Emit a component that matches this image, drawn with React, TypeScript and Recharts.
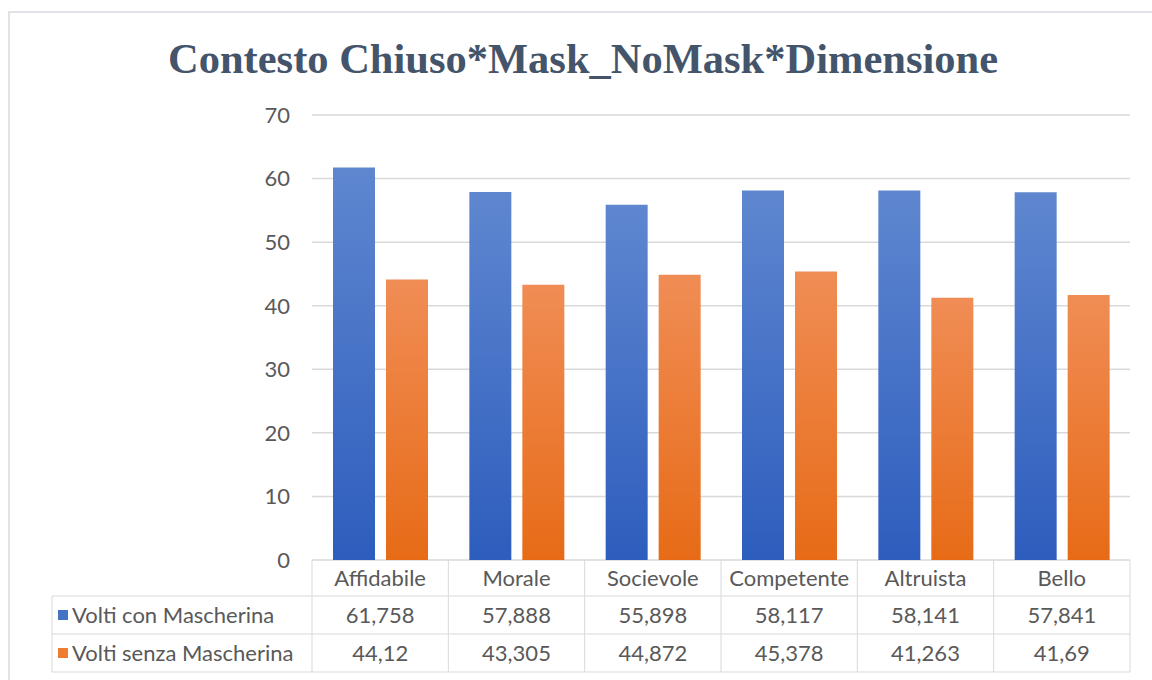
import React from 'react';
import { BarChart, Bar, XAxis, YAxis, CartesianGrid } from 'recharts';

const categories = ['Affidabile', 'Morale', 'Socievole', 'Competente', 'Altruista', 'Bello'];
const conMascherina = [61.758, 57.888, 55.898, 58.117, 58.141, 57.841];
const senzaMascherina = [44.12, 43.305, 44.872, 45.378, 41.263, 41.69];
const yTicks = [0, 10, 20, 30, 40, 50, 60, 70];
const seriesNames = ['Volti con Mascherina', 'Volti senza Mascherina'];
const seriesLabels = [
  ['61,758', '57,888', '55,898', '58,117', '58,141', '57,841'],
  ['44,12', '43,305', '44,872', '45,378', '41,263', '41,69'],
];

const data = categories.map((name, i) => ({
  name,
  con: conMascherina[i],
  senza: senzaMascherina[i],
}));

const W = 1152;
const H = 680;
const PLOT_LEFT = 312;
const PLOT_RIGHT = 1130;
const PLOT_TOP = 115;
const AXIS_H = 112;
const PLOT_BOTTOM = H - 8 - AXIS_H;
const CELL_W = (PLOT_RIGHT - PLOT_LEFT) / categories.length;
const ROW_Y = [PLOT_BOTTOM, PLOT_BOTTOM + 36, PLOT_BOTTOM + 74, PLOT_BOTTOM + 112];
const LEGEND_LEFT = 52;
const LINE = '#d9d9d9';
const TEXT = '#595959';
const FONT = 'Lato, "Open Sans", sans-serif';
const FS = 22;
const COLORS = ['#4472c4', '#ed7d31'];

const TableTick = (props: any) => {
  const { x, payload } = props;
  const i = payload.index;
  const left = x - CELL_W / 2;
  const right = x + CELL_W / 2;
  const mid = (a: number, b: number) => (a + b) / 2 + 8;
  return (
    <g>
      <line x1={left} x2={left} y1={ROW_Y[0]} y2={ROW_Y[3]} stroke={LINE} />
      {i === categories.length - 1 && (
        <line x1={right} x2={right} y1={ROW_Y[0]} y2={ROW_Y[3]} stroke={LINE} />
      )}
      {[1, 2, 3].map((r) => (
        <line key={r} x1={left} x2={right} y1={ROW_Y[r]} y2={ROW_Y[r]} stroke={LINE} />
      ))}
      <text x={x} y={mid(ROW_Y[0], ROW_Y[1])} textAnchor="middle" fill={TEXT} fontSize={FS} fontFamily={FONT}>
        {payload.value}
      </text>
      {seriesLabels.map((row, r) => (
        <text key={r} x={x} y={mid(ROW_Y[r + 1], ROW_Y[r + 2])} textAnchor="middle" fill={TEXT} fontSize={FS} fontFamily={FONT}>
          {row[i]}
        </text>
      ))}
      {i === 0 && (
        <g>
          <line x1={LEGEND_LEFT} x2={LEGEND_LEFT} y1={ROW_Y[1]} y2={ROW_Y[3]} stroke={LINE} />
          {[1, 2, 3].map((r) => (
            <line key={r} x1={LEGEND_LEFT} x2={left} y1={ROW_Y[r]} y2={ROW_Y[r]} stroke={LINE} />
          ))}
          {seriesNames.map((name, r) => {
            const cy = (ROW_Y[r + 1] + ROW_Y[r + 2]) / 2;
            return (
              <g key={name}>
                <rect x={LEGEND_LEFT + 6} y={cy - 5} width={10} height={10} fill={COLORS[r]} />
                <text x={LEGEND_LEFT + 20} y={cy + 8} fill={TEXT} fontSize={FS} fontFamily={FONT}>
                  {name}
                </text>
              </g>
            );
          })}
        </g>
      )}
    </g>
  );
};

export default function App() {
  return (
    <div style={{ position: 'absolute', left: 0, top: 0, width: W, height: H, background: '#fff' }}>
      <div
        style={{
          position: 'absolute',
          left: 8,
          top: 11,
          width: W,
          height: H,
          borderTop: '2px solid #e1e1e8',
          borderLeft: '2px solid #e1e1e8',
        }}
      />
      <div
        style={{
          position: 'absolute',
          left: 0,
          width: 1166,
          top: 34,
          textAlign: 'center',
          fontFamily: '"Liberation Serif", "Times New Roman", serif',
          fontWeight: 'bold',
          fontSize: 42.5,
          color: '#44546a',
          lineHeight: '50px',
        }}
      >
        Contesto Chiuso*Mask_NoMask*Dimensione
      </div>
      <div style={{ position: 'absolute', left: 0, top: 0 }}>
        <BarChart
          width={W}
          height={H}
          data={data}
          margin={{ top: PLOT_TOP, right: W - PLOT_RIGHT, bottom: 8, left: 0 }}
          barSize={42}
          barGap={11}
        >
          <defs>
            <linearGradient id="gBlue" x1="0" y1="0" x2="0" y2="1">
              <stop offset="0%" stopColor="#5f87d0" />
              <stop offset="100%" stopColor="#2d5dbd" />
            </linearGradient>
            <linearGradient id="gOrange" x1="0" y1="0" x2="0" y2="1">
              <stop offset="0%" stopColor="#f08d55" />
              <stop offset="100%" stopColor="#e76b17" />
            </linearGradient>
          </defs>
          <CartesianGrid vertical={false} stroke={LINE} strokeWidth={1.5} />
          <XAxis
            dataKey="name"
            height={AXIS_H}
            axisLine={false}
            tickLine={false}
            interval={0}
            tick={<TableTick />}
          />
          <YAxis
            width={PLOT_LEFT}
            domain={[0, 70]}
            ticks={yTicks}
            axisLine={false}
            tickLine={false}
            tickSize={0}
            tickMargin={22}
            tick={{ fill: TEXT, fontSize: FS, fontFamily: FONT }}
          />
          <Bar dataKey="con" name={seriesNames[0]} fill="url(#gBlue)" isAnimationActive={false} />
          <Bar dataKey="senza" name={seriesNames[1]} fill="url(#gOrange)" isAnimationActive={false} />
        </BarChart>
      </div>
    </div>
  );
}
